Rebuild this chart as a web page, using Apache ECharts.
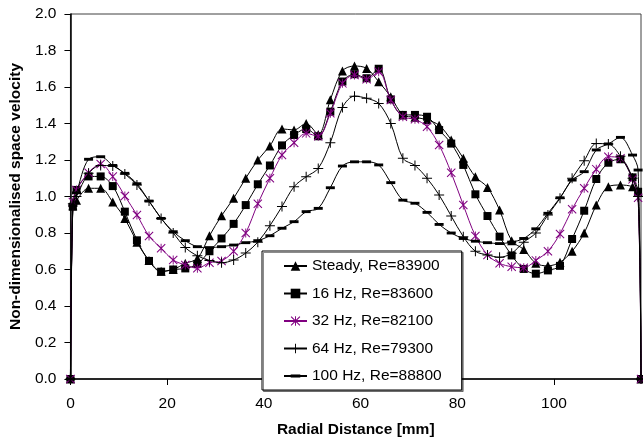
<!DOCTYPE html>
<html>
<head>
<meta charset="utf-8">
<script src="https://cdn.jsdelivr.net/npm/echarts@6/dist/echarts.min.js"></script>
<style>
  html, body { margin: 0; padding: 0; background: #fff; }
  #chart { width: 643px; height: 444px; }
</style>
</head>
<body>
<div id="chart"></div>
<script>
// Radial measurement positions [mm]
const radialPositions = [0, 0.5, 1.25, 3.75, 6.25, 8.75, 11.25, 13.75, 16.25, 18.75, 21.25, 23.75,
  26.25, 28.75, 31.25, 33.75, 36.25, 38.75, 41.25, 43.75, 46.25, 48.75, 51.25, 53.75,
  56.25, 58.75, 61.25, 63.75, 66.25, 68.75, 71.25, 73.75, 76.25, 78.75, 81.25, 83.75,
  86.25, 88.75, 91.25, 93.75, 96.25, 98.75, 101.25, 103.75, 106.25, 108.75, 111.25, 113.75,
  116.25, 117.4, 118];

const seriesNames = ['Steady, Re=83900', '16 Hz, Re=83600', '32 Hz, Re=82100', '64 Hz, Re=79300', '100 Hz, Re=88800'];

const steadyValues = [0, 0.95, 0.98, 1.045, 1.045, 0.97, 0.88, 0.75, 0.65, 0.59, 0.60, 0.634,
  0.66, 0.785, 0.895, 0.99, 1.10, 1.20, 1.277, 1.37, 1.365, 1.40, 1.34, 1.53,
  1.688, 1.715, 1.702, 1.629, 1.547, 1.447, 1.434, 1.42, 1.39, 1.31, 1.209, 1.108,
  1.05, 0.926, 0.757, 0.71, 0.634, 0.62, 0.64, 0.70, 0.80, 0.953, 1.054, 1.063,
  1.054, 1.03, 0];

const hz16Values = [0, 0.944, 1.036, 1.11, 1.11, 1.057, 0.917, 0.76, 0.647, 0.588, 0.60, 0.606,
  0.63, 0.70, 0.77, 0.85, 0.953, 1.067, 1.17, 1.28, 1.337, 1.37, 1.33, 1.465,
  1.63, 1.67, 1.648, 1.70, 1.532, 1.447, 1.447, 1.437, 1.364, 1.29, 1.173, 1.012,
  0.893, 0.78, 0.677, 0.603, 0.577, 0.595, 0.62, 0.767, 0.922, 1.096, 1.185, 1.204,
  1.105, 1.026, 0];

const hz32Values = [0, 0.97, 1.036, 1.13, 1.178, 1.109, 1.003, 0.899, 0.784, 0.716, 0.652, 0.625,
  0.607, 0.637, 0.647, 0.70, 0.80, 0.96, 1.10, 1.227, 1.295, 1.346, 1.33, 1.456,
  1.62, 1.666, 1.642, 1.684, 1.529, 1.437, 1.423, 1.382, 1.282, 1.13, 0.953, 0.784,
  0.68, 0.634, 0.615, 0.61, 0.65, 0.70, 0.795, 0.93, 1.045, 1.15, 1.218, 1.209,
  1.094, 0.993, 0];

const hz64Values = [0, 0.96, 1.00, 1.127, 1.17, 1.167, 1.123, 1.063, 0.975, 0.88, 0.80, 0.72,
  0.675, 0.65, 0.637, 0.652, 0.69, 0.75, 0.84, 0.945, 1.054, 1.108, 1.154, 1.295,
  1.488, 1.55, 1.538, 1.51, 1.40, 1.209, 1.17, 1.10, 1.008, 0.893, 0.78, 0.70,
  0.68, 0.667, 0.689, 0.75, 0.80, 0.899, 0.99, 1.10, 1.196, 1.29, 1.288, 1.22,
  1.10, 1.0, 0];

const hz100Values = [0, 0.95, 1.02, 1.204, 1.218, 1.17, 1.127, 1.07, 0.975, 0.88, 0.807, 0.758,
  0.725, 0.72, 0.725, 0.734, 0.747, 0.758, 0.785, 0.826, 0.862, 0.917, 0.935, 1.048,
  1.167, 1.19, 1.19, 1.173, 1.076, 0.98, 0.963, 0.913, 0.847, 0.80, 0.77, 0.755,
  0.747, 0.742, 0.75, 0.77, 0.823, 0.908, 0.993, 1.09, 1.136, 1.255, 1.288, 1.324,
  1.227, 1.145, 0];

const xTicks = [0, 20, 40, 60, 80, 100];

// Marker shapes (10x10 boxes, filled)
const plusPath = 'path://M0,0M4.5,0L5.5,0L5.5,4.5L10,4.5L10,5.5L5.5,5.5L5.5,10L4.5,10L4.5,5.5L0,5.5L0,4.5L4.5,4.5Z';
const dashPath = 'path://M0,0M0,3.4L10,3.4L10,6.6L0,6.6ZM10,10';
const starPath = 'path://M4.5,0L5.5,0L5.5,10L4.5,10Z' +
  'M0,0.8L0.8,0L10,9.2L9.2,10Z' +
  'M9.2,0L10,0.8L0.8,10L0,9.2Z';

const FONT = '"Liberation Sans", Arial, sans-serif';
const PURPLE = '#800080';

function pairs(values) {
  return radialPositions.map((x, i) => [x, values[i]]);
}

const markers = [
  { symbol: 'triangle', size: 9, color: '#000' },
  { symbol: 'rect', size: 8, color: '#000' },
  { symbol: starPath, size: 9, color: PURPLE },
  { symbol: plusPath, size: 10, color: '#000' },
  { symbol: dashPath, size: 9, color: '#000' }
];
const valueSets = [steadyValues, hz16Values, hz32Values, hz64Values, hz100Values];

const series = seriesNames.map((name, i) => ({
  name: name,
  type: 'line',
  data: pairs(valueSets[i]),
  smooth: 0.33,
  symbol: markers[i].symbol,
  symbolSize: markers[i].size,
  showAllSymbol: true,
  lineStyle: { color: markers[i].color, width: 1 },
  itemStyle: { color: markers[i].color, borderWidth: 0 },
  emphasis: { disabled: true },
  animation: false,
  z: 2 + i
}));

const chart = echarts.init(document.getElementById('chart'), null, { renderer: 'canvas' });
chart.setOption({
  animation: false,
  backgroundColor: '#fff',
  textStyle: { fontFamily: FONT },
  grid: {
    left: 66, top: 14, width: 575, height: 365,
    show: true, borderColor: '#404040', borderWidth: 1, backgroundColor: 'transparent'
  },
  legend: {
    orient: 'vertical',
    left: 262, top: 251,
    padding: [7, 20, 6, 21],
    itemWidth: 23, itemHeight: 12, itemGap: 11.5,
    backgroundColor: '#fff',
    borderColor: '#000', borderWidth: 1,
    shadowColor: 'rgba(0,0,0,0.45)', shadowOffsetX: 1.5, shadowOffsetY: 1.5, shadowBlur: 0,
    textStyle: { fontFamily: FONT, fontSize: 15.5, color: '#000' },
    data: seriesNames
  },
  xAxis: {
    type: 'value',
    min: 0, max: 118, interval: 20,
    name: 'Radial Distance [mm]',
    nameLocation: 'middle', nameGap: 43,
    nameTextStyle: { fontFamily: FONT, fontSize: 15.5, fontWeight: 'bold', color: '#000' },
    axisLine: { show: true, onZero: false, lineStyle: { color: '#000', width: 1.5 } },
    axisTick: { show: true, inside: false, length: 6, lineStyle: { color: '#000' } },
    axisLabel: {
      fontFamily: FONT, fontSize: 15.5, color: '#000', margin: 17,
      showMaxLabel: false,
      formatter: v => (xTicks.indexOf(v) >= 0 ? String(v) : '')
    },
    splitLine: { show: false }
  },
  yAxis: {
    type: 'value',
    min: 0, max: 2, interval: 0.2,
    name: 'Non-dimensionalised space velocity',
    nameLocation: 'middle', nameGap: 39,
    nameTextStyle: { fontFamily: FONT, fontSize: 15.5, fontWeight: 'bold', color: '#000' },
    axisLine: { show: true, lineStyle: { color: '#000', width: 1.5 } },
    axisTick: { show: true, inside: false, length: 6, lineStyle: { color: '#000' } },
    axisLabel: {
      fontFamily: FONT, fontSize: 15.5, color: '#000', margin: 14,
      formatter: v => v.toFixed(1)
    },
    splitLine: { show: false }
  },
  series: series
});
</script>
</body>
</html>
